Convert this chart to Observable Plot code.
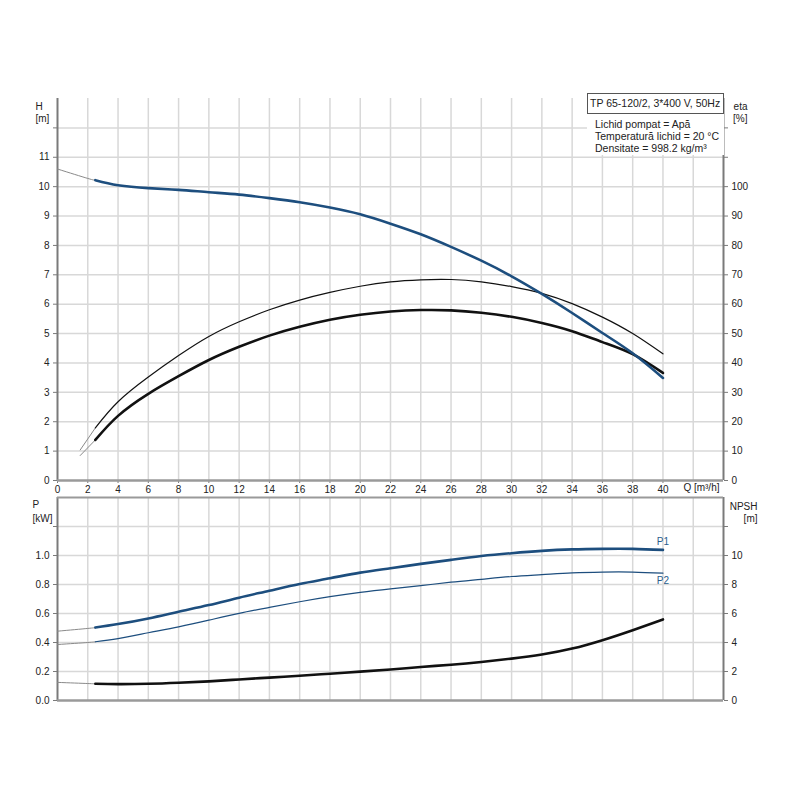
<!DOCTYPE html>
<html><head><meta charset="utf-8">
<script src="https://cdn.jsdelivr.net/npm/d3@7"></script>
<script src="https://cdn.jsdelivr.net/npm/@observablehq/plot@0.6"></script>
<style>
body{margin:0;background:#fff;font-family:"Liberation Sans",Arial,sans-serif;}
#wrap{position:relative;width:800px;height:800px;overflow:hidden;}
#top,#bot{position:absolute;left:0;}
#top{top:0px} #bot{top:480px}
#legend{position:absolute;left:587px;top:93px;width:137px;height:62px;background:#fff;font-size:10.5px;color:#222;z-index:5}
#legend .t{border:1px solid #555;height:21px;line-height:19px;padding-left:2px;box-sizing:border-box;white-space:nowrap}
#legend .l{padding-left:8px;line-height:12px;margin-top:4px;white-space:nowrap}
</style></head>
<body><div id="wrap"><div id="top"></div><div id="bot"></div>
<div id="legend"><div class="t">TP 65-120/2, 3*400 V, 50Hz</div>
<div class="l">Lichid pompat = Apă<br>Temperatură lichid = 20 °C<br>Densitate = 998.2 kg/m³</div></div></div>
<script>
// ---- data ----
const Q_H = [0,2,2.5,4,6,8,10,12,14,16,18,20,22,24,26,28,30,32,34,36,38,40];
const H = [10.6,10.28,10.22,10.05,9.95,9.89,9.81,9.73,9.61,9.47,9.29,9.06,8.74,8.38,7.95,7.48,6.95,6.35,5.7,5.02,4.33,3.49];
const Q_ETA = [1.5,2.5,4,6,8,10,12,14,16,18,20,22,24,26,28,30,32,34,36,38,40];
const ETA_UPPER = [10.4,17.9,26.8,35.2,42.5,49.0,54.0,58.1,61.4,64.0,66.1,67.6,68.3,68.4,67.6,66.0,63.7,60.2,55.6,50.0,43.1];
const ETA_LOWER = [8.5,13.8,22.0,29.5,35.5,41.0,45.5,49.3,52.3,54.7,56.4,57.5,58.0,57.9,57.1,55.7,53.6,50.8,47.1,43.0,36.6];
const Q_P = [0,2,2.5,4,6,8,10,12,14,16,18,20,22,24,26,28,30,32,34,36,38,40];
const P1 = [0.478,0.497,0.503,0.527,0.566,0.612,0.658,0.709,0.757,0.804,0.843,0.882,0.912,0.942,0.970,0.996,1.016,1.032,1.042,1.046,1.046,1.039];
const P2 = [0.386,0.400,0.405,0.427,0.467,0.508,0.554,0.601,0.642,0.681,0.716,0.746,0.770,0.792,0.816,0.836,0.855,0.868,0.880,0.886,0.886,0.878];
const NPSH = [1.25,1.17,1.15,1.13,1.15,1.22,1.32,1.45,1.58,1.71,1.85,1.99,2.14,2.31,2.47,2.66,2.89,3.17,3.58,4.16,4.85,5.59];
const Q_TICKS = [0,2,4,6,8,10,12,14,16,18,20,22,24,26,28,30,32,34,36,38,40];
const Q_GRID = [2,4,6,8,10,12,14,16,18,20,22,24,26,28,30,32,34,36,38,40,42];
const H_TICKS = [0,1,2,3,4,5,6,7,8,9,10,11,12];
const ETA_TICKS = [0,10,20,30,40,50,60,70,80,90,100,110,120];
const P_TICKS = [0,0.2,0.4,0.6,0.8,1.0,1.2];
const NPSH_TICKS = [0,2,4,6,8,10,12];

const tbl = (qs, vs) => qs.map((q,i)=>({q, v: vs[i]}));
const hData = tbl(Q_H, H);
const etaU = tbl(Q_ETA, ETA_UPPER);
const etaL = tbl(Q_ETA, ETA_LOWER);
const p1 = tbl(Q_P, P1);
const p2 = tbl(Q_P, P2);
const npsh = tbl(Q_P, NPSH);

const BLUE = "#1d4e7e", GREY_EXT = "#8a8a8a", GRID = "#d8d8d8", AX = "#7a7a7a";
const FONT = {fontFamily:"'Liberation Sans', Arial, sans-serif", fontSize:"10px", color:"#222", background:"transparent", overflow:"visible"};
const CUT = 2.5;
const ext = d => d.q <= CUT, main = d => d.q >= CUT;
const curve = "natural";

function seg(data, yfn, stroke, width) {
  return [
    Plot.line(data.filter(ext), {x:"q", y:yfn, stroke:GREY_EXT, strokeWidth:1, curve}),
    Plot.line(data.filter(main), {x:"q", y:yfn, stroke, strokeWidth:width, curve})
  ];
}

const topPlot = Plot.plot({
  width:800, height:500, marginTop:98, marginBottom:20, marginLeft:57, marginRight:77,
  style: FONT,
  x:{domain:[0,44]},
  y:{domain:[0,13]},
  marks:[
    Plot.gridX(Q_GRID, {stroke:GRID, strokeOpacity:1, strokeWidth:1.5}),
    Plot.gridY(H_TICKS.filter(d=>d>0), {stroke:GRID, strokeOpacity:1, strokeWidth:1.5}),
    Plot.axisX(Q_TICKS, {tickSize:3, tickPadding:2, stroke:AX, label:null}),
    Plot.axisY(H_TICKS, {anchor:"left", tickSize:4, tickPadding:4, stroke:AX, label:null, tickFormat:d=> d<=11 ? String(d) : ""}),
    Plot.axisY(ETA_TICKS.map(e=>e/10), {anchor:"right", tickSize:4, tickPadding:4, stroke:AX, label:null, tickFormat:d=> d<=10 ? String(Math.round(d*10)) : ""}),
    Plot.ruleX([0], {stroke:AX, strokeWidth:2}),
    Plot.ruleX([44], {stroke:AX, strokeWidth:2}),
    Plot.ruleY([0], {stroke:"#9a9a9a", strokeWidth:2.5}),
    ...seg(etaU, d=>d.v/10, "#111", 1.2),
    ...seg(etaL, d=>d.v/10, "#111", 2.6),
    ...seg(hData, "v", BLUE, 2.6),
    Plot.text(["H"], {text:d=>d, frameAnchor:"top-left", dx:-22, dy:4}),
    Plot.text(["[m]"], {text:d=>d, frameAnchor:"top-left", dx:-22, dy:16}),
    Plot.text(["eta"], {text:d=>d, frameAnchor:"top-right", dx:24, dy:4}),
    Plot.text(["[%]"], {text:d=>d, frameAnchor:"top-right", dx:24, dy:16}),
    Plot.text(["Q [m³/h]"], {text:d=>d, frameAnchor:"bottom-right", textAnchor:"end", dx:-4, dy:10})
  ]
});
document.getElementById("top").append(topPlot);

const last = a => [a[a.length-1]];
const botPlot = Plot.plot({
  width:800, height:240, marginTop:17, marginBottom:20, marginLeft:57, marginRight:77,
  style: FONT,
  x:{domain:[0,44]},
  y:{domain:[0,1.4]},
  marks:[
    Plot.gridX(Q_GRID, {stroke:GRID, strokeOpacity:1, strokeWidth:1.5}),
    Plot.gridY(P_TICKS.filter(d=>d>0), {stroke:GRID, strokeOpacity:1, strokeWidth:1.5}),
    Plot.axisY(P_TICKS, {anchor:"left", tickSize:4, tickPadding:4, stroke:AX, label:null, tickFormat:d=> d<=1.0 ? d.toFixed(1) : ""}),
    Plot.axisY(NPSH_TICKS.map(n=>n/10), {anchor:"right", tickSize:4, tickPadding:4, stroke:AX, label:null, tickFormat:d=> d<=1.0 ? String(Math.round(d*10)) : ""}),
    Plot.axisX(Q_TICKS, {tickSize:0, label:null, tickFormat:()=>""}),
    Plot.ruleX([0], {stroke:AX, strokeWidth:2}),
    Plot.ruleX([44], {stroke:AX, strokeWidth:2}),
    Plot.ruleY([0], {stroke:"#9a9a9a", strokeWidth:2.5}),
    Plot.ruleY([1.4], {stroke:"#9a9a9a", strokeWidth:2}),
    ...seg(npsh, d=>d.v/10, "#111", 2.6),
    ...seg(p2, "v", BLUE, 1.2),
    ...seg(p1, "v", BLUE, 2.6),
    Plot.text(last(p1), {x:"q", y:"v", text:()=>"P1", dy:-8, fill:"#2b5d8c"}),
    Plot.text(last(p2), {x:"q", y:"v", text:()=>"P2", dy:8, fill:"#2b5d8c"}),
    Plot.text(["P"], {text:d=>d, frameAnchor:"top-left", dx:-25, dy:3}),
    Plot.text(["[kW]"], {text:d=>d, frameAnchor:"top-left", dx:-25, dy:17}),
    Plot.text(["NPSH"], {text:d=>d, frameAnchor:"top-right", dx:34, dy:5}),
    Plot.text(["[m]"], {text:d=>d, frameAnchor:"top-right", dx:34, dy:17})
  ]
});
document.getElementById("bot").append(botPlot);
</script></body></html>
